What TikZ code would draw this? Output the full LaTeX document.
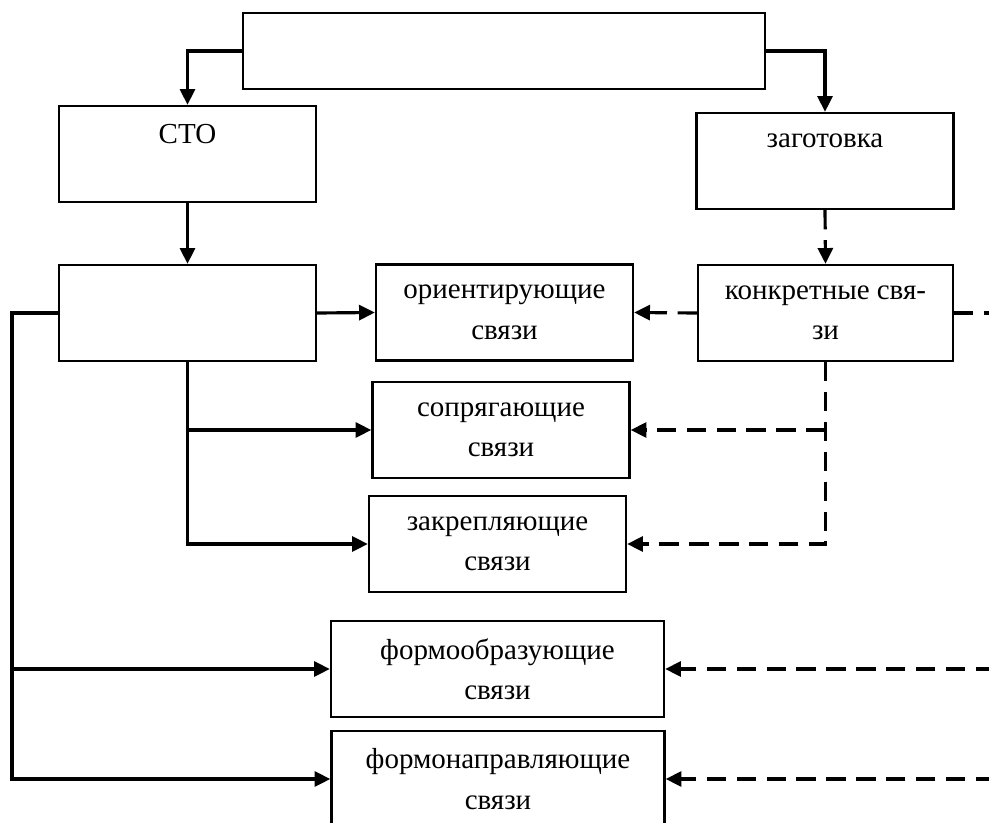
\documentclass[tikz,border=0pt]{standalone}
\usepackage{fontspec}
\setmainfont{Liberation Serif}
\usepackage{tikz}
\usetikzlibrary{positioning, arrows.meta, shapes}
\tikzstyle{arrow} = [line width=1.8pt,-{Triangle[length=9pt,width=8.5pt]}]
\tikzstyle{darrow} = [arrow, dash pattern=on 11pt off 6pt]

\begin{document}
\begin{tikzpicture}
                \tikzstyle{every node}=[font=\fontsize{16.5}{23}\selectfont, align=center]
                \tikzstyle{block} = [rectangle, draw=black, line width=1.3pt, minimum width=5.14cm, minimum height=1.92cm]
                \tikzstyle{wideblock} = [block, minimum width=6.66cm]
                \tikzstyle{dline} = [line width=1.8pt, dash pattern=on 11pt off 6pt]

                \useasboundingbox (0,0) rectangle (19.78,-16.46);

                \node[block, minimum width=10.44cm, minimum height=1.52cm](top) at (10.08,-1.02) {};
                \node[block](sto) at (3.75,-3.08) {СТО\\ ~};
                \node[block](zag) at (16.5,-3.22) {заготовка\\ ~};
                \node[block](base) at (3.75,-6.26) {};
                \node[block](orient) at (10.09,-6.25) {ориентирующие\\связи};
                \node[block, minimum width=5.1cm](konk) at (16.51,-6.26) {конкретные свя-\\зи};
                \node[block](sopr) at (10.02,-8.6) {сопрягающие\\связи};
                \node[block](zakr) at (9.95,-10.88) {закрепляющие\\связи};
                \node[wideblock](fobr) at (9.95,-13.38) {формообразующие\\связи};
                \node[wideblock](fnapr) at (9.96,-15.58) {формонаправляющие\\связи};

                \coordinate (lft) at (0.24,-6.26);
                \coordinate (r1) at (19.9,-6.26);
                \coordinate (r2) at (19.9,-13.38);
                \coordinate (r3) at (19.9,-15.58);

                \draw[arrow] (top.west) -| (sto.north);
                \draw[arrow] (top.east) -| (zag.north);
                \draw[arrow] (sto.south) -- (base.north);
                \draw[darrow] (zag.south) -- (konk.north);

                \draw[arrow] (base.east) -- (orient.west);
                \draw[arrow] (base.south) |- (zakr.west);
                \draw[arrow] (base.south |- sopr.west) -- (sopr.west);
                \draw[arrow] (base.west) -- (lft) |- (fnapr.west);
                \draw[arrow] (lft |- fobr.west) -- (fobr.west);

                \draw[darrow] (konk.west) -- (orient.east);
                \draw[dline] (konk.east) -- (r1);
                \draw[darrow] (konk.south) |- (zakr.east);
                \draw[darrow] (konk.south |- sopr.east) -- (sopr.east);
                \draw[darrow] (r2) -- (fobr.east);
                \draw[darrow] (r3) -- (fnapr.east);

        \end{tikzpicture}
\end{document}
